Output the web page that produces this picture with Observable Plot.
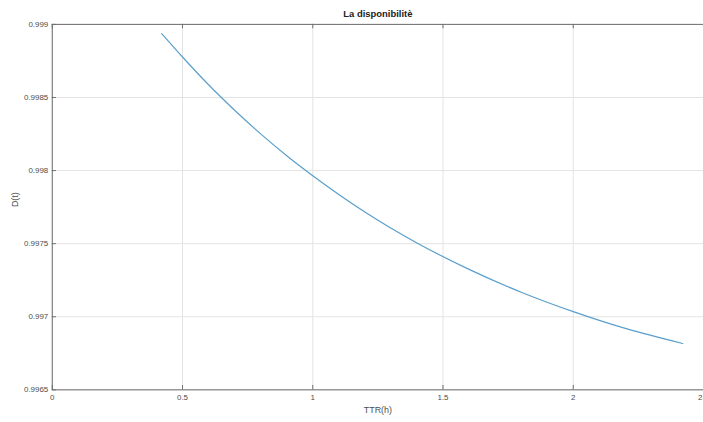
<!DOCTYPE html>
<html>
<head>
<meta charset="utf-8">
<script src="https://cdn.jsdelivr.net/npm/d3@7"></script>
<script src="https://cdn.jsdelivr.net/npm/@observablehq/plot@0.6"></script>
<style>
  html, body { margin: 0; padding: 0; background: #fff; overflow: hidden; width: 703px; height: 422px; }
  #chart svg { display: block; }
</style>
</head>
<body>
<div id="chart"></div>
<script>
// Data
const ttr = [0.42, 0.5, 0.6, 0.7, 0.8, 0.9, 1.0, 1.2, 1.4, 1.6, 1.8, 2.0, 2.2, 2.42];
const dispo = [0.998937, 0.998777, 0.998587, 0.998413, 0.998251, 0.998102, 0.997965, 0.997717, 0.997505, 0.997324, 0.997168, 0.997035, 0.996920, 0.996817];

const xTicks = [0, 0.5, 1, 1.5, 2, 2.5];
const xTickLabels = ["0", "0.5", "1", "1.5", "2", "2.5"];
const yTicks = [0.9965, 0.997, 0.9975, 0.998, 0.9985, 0.999];
const yTickLabels = ["0.9965", "0.997", "0.9975", "0.998", "0.9985", "0.999"];
const xDomain = [0, 2.5];
const yDomain = [0.9965, 0.999];

const titleText = "La disponibilitè";
const xLabel = "TTR(h)";
const yLabel = "D(t)";

const data = ttr.map((t, i) => ({t, d: dispo[i]}));

const axisColor = "#6e6e6e";
const textColor = "#4d4d4d";
const gridColor = "#e4e4e4";
const xTickLen = 0.016;      // in x units (inward ticks)
const yTickLen = 0.00003;    // in y units (inward ticks)

const chart = Plot.plot({
  width: 706,
  height: 422,
  marginLeft: 52,
  marginTop: 24,
  marginBottom: 31,
  marginRight: 0,
  style: {fontFamily: "'Liberation Sans', Arial, Helvetica, sans-serif", background: "#fff", overflow: "visible"},
  x: {domain: xDomain},
  y: {domain: yDomain},
  marks: [
    Plot.gridX(xTicks, {stroke: gridColor, strokeOpacity: 1}),
    Plot.gridY(yTicks, {stroke: gridColor, strokeOpacity: 1}),
    Plot.line(data, {x: "t", y: "d", stroke: "#5a9fcc", strokeWidth: 1.2, curve: "monotone-x"}),
    // inward ticks
    Plot.ruleY(yTicks, {y: d => d, x1: xDomain[0], x2: xDomain[0] + xTickLen, stroke: axisColor}),
    Plot.ruleX(xTicks, {x: d => d, y1: yDomain[0], y2: yDomain[0] + yTickLen, stroke: axisColor}),
    Plot.ruleX(xTicks, {x: d => d, y1: yDomain[1], y2: yDomain[1] - yTickLen, stroke: axisColor}),
    Plot.frame({stroke: axisColor, strokeWidth: 1}),
    Plot.axisY(yTicks, {tickSize: 0, tickPadding: 4, fontSize: 8, fill: textColor, label: null,
      tickFormat: d => yTickLabels[yTicks.indexOf(d)]}),
    Plot.axisX(xTicks, {tickSize: 0, tickPadding: 5, fontSize: 8, fill: textColor, label: null,
      tickFormat: d => xTickLabels[xTicks.indexOf(d)]}),
    Plot.text([titleText], {frameAnchor: "top", dy: -14, fontWeight: "bold", fontSize: 9.5, fill: "#222"}),
    Plot.text([xLabel], {frameAnchor: "bottom", dy: 23, fontSize: 9, fill: textColor}),
    Plot.text([yLabel], {frameAnchor: "left", dx: -37, rotate: -90, fontSize: 9, fill: textColor})
  ]
});
document.getElementById("chart").appendChild(chart);
</script>
</body>
</html>
